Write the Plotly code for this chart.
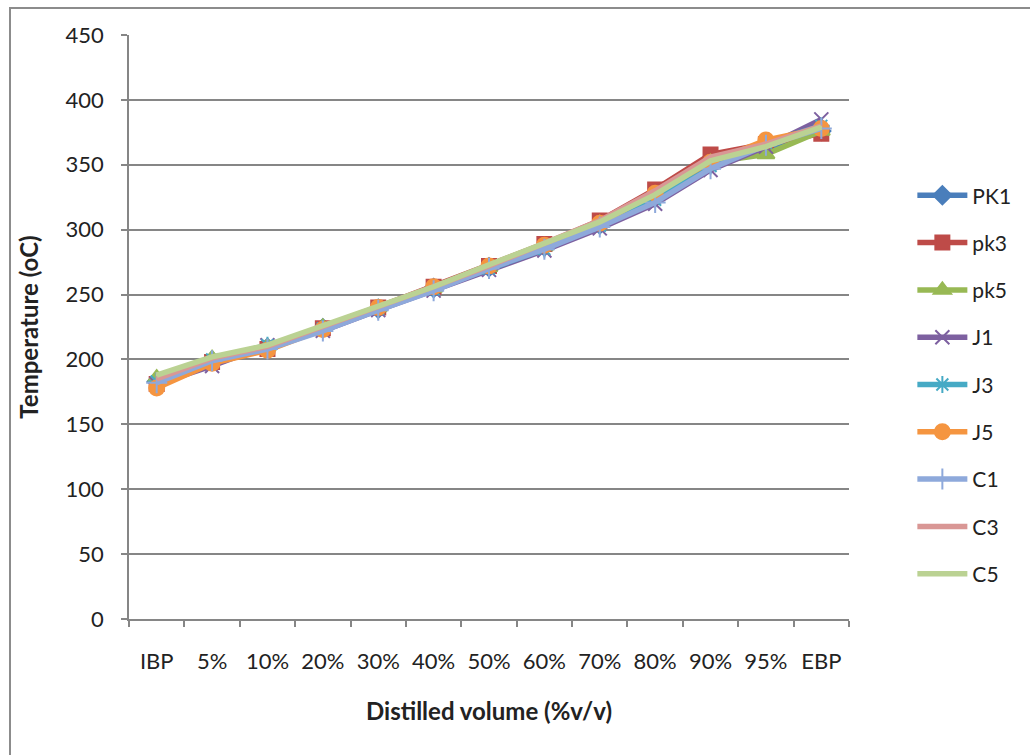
import plotly.graph_objects as go

categories = ["IBP", "5%", "10%", "20%", "30%", "40%", "50%", "60%", "70%", "80%", "90%", "95%", "EBP"]

PK1 = [183, 199, 209, 224, 239, 255, 271, 287, 304, 325, 351, 363, 376]
pk3 = [181, 198, 208, 224, 240, 256, 272, 289, 307, 331, 358, 366, 374]
pk5 = [186, 201, 210, 225, 240, 255, 271, 287, 305, 326, 352, 358, 376]
J1 = [181, 195, 211, 222, 238, 253, 269, 284, 301, 320, 346, 364, 385]
J3 = [183, 200, 211, 224, 239, 254, 270, 285, 303, 323, 349, 367, 380]
J5 = [178, 197, 207, 223, 240, 256, 272, 288, 305, 328, 352, 369, 378]
C1 = [182, 199, 208, 222, 238, 253, 270, 285, 302, 321, 347, 365, 378]
C3 = [185, 201, 210, 225, 240, 256, 272, 289, 307, 330, 356, 366, 380]
C5 = [188, 202, 211, 226, 241, 256, 273, 289, 306, 327, 353, 364, 379]

series = [
    ("PK1", PK1, "#4A7EBB", "diamond", 14),
    ("pk3", pk3, "#BE4B48", "square", 14),
    ("pk5", pk5, "#98B954", "triangle-up", 15),
    ("J1", J1, "#7D60A0", "x-thin-open", 14),
    ("J3", J3, "#46AAC5", "asterisk-open", 14),
    ("J5", J5, "#F59540", "circle", 15),
    ("C1", C1, "#8EA9DB", "cross-thin-open", 15),
    ("C3", C3, "#D99795", "line-ew-open", 1),
    ("C5", C5, "#BBD293", "line-ew-open", 1),
]

fig = go.Figure()
for name, vals, color, sym, size in series:
    fig.add_trace(go.Scatter(
        x=categories, y=vals, name=name, mode="lines+markers",
        line=dict(color=color, width=5.5),
        marker=dict(symbol=sym, size=size, color=color,
                    line=dict(color=color, width=2)),
        legendgroup=name,
    ))

axis_col = "#868686"
font_family = "Lato, 'Open Sans', sans-serif"

fig.update_layout(
    width=1030, height=755,
    margin=dict(l=129, r=181, t=35, b=136),
    paper_bgcolor="white", plot_bgcolor="white",
    font=dict(family=font_family, size=22, color="#222222"),
    showlegend=True,
    legend=dict(
        x=1.088, y=0.76, xanchor="left", yanchor="top",
        font=dict(size=21, color="#222222"),
        tracegroupgap=17, itemwidth=50,
        bgcolor="rgba(0,0,0,0)",
    ),
    xaxis=dict(
        type="category", range=[-0.5, 12.5],
        showline=True, linecolor=axis_col, linewidth=1.5,
        ticks="outside", tickson="boundaries", ticklen=6, tickcolor=axis_col, tickwidth=1.5,
        ticklabelstandoff=22,
        showgrid=False, zeroline=False,
        tickfont=dict(size=22),
        title=dict(text="<b>Distilled volume (%v/v)</b>", font=dict(size=24), standoff=30),
    ),
    yaxis=dict(
        range=[0, 450], dtick=50,
        showline=True, linecolor=axis_col, linewidth=1.5,
        ticks="outside", ticklen=6, tickcolor=axis_col, tickwidth=1.5,
        ticklabelstandoff=13,
        showgrid=True, gridcolor=axis_col, gridwidth=1.5,
        zeroline=False,
        tickfont=dict(size=22),
        title=dict(text="<b>Temperature (oC)</b>", font=dict(size=24), standoff=20),
    ),
    shapes=[dict(
        type="rect", xref="paper", yref="paper",
        x0=(10 - 129) / 720, x1=(1050 - 129) / 720,
        y0=(619 - 775) / 584, y1=(619 - 8) / 584,
        line=dict(color="#8C8C8C", width=2), fillcolor="rgba(0,0,0,0)",
        layer="below",
    )],
)

fig.write_html("out.html")
